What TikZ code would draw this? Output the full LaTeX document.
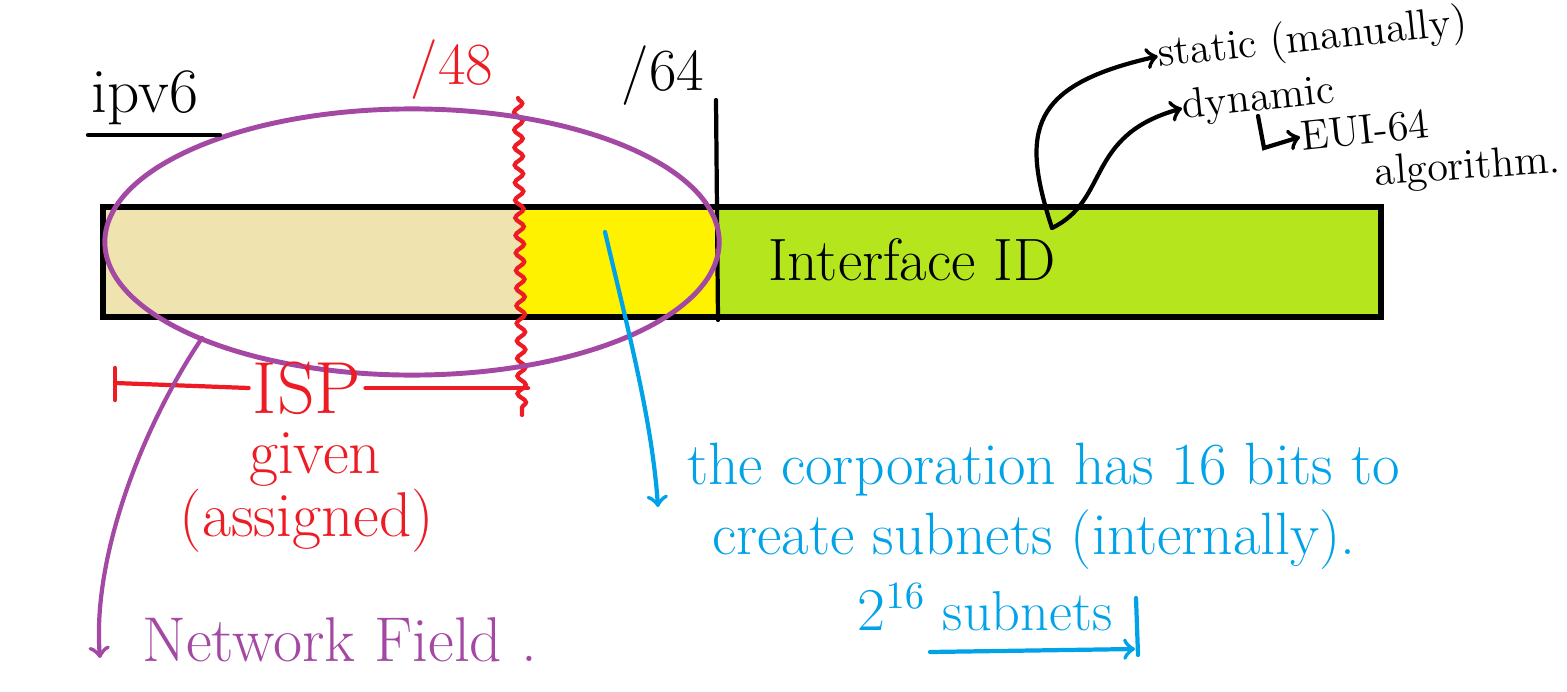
\documentclass[tikz,border=0pt]{standalone}
\usepackage{tikz}
\usetikzlibrary{arrows,decorations.pathmorphing}
\definecolor{tanfield}{HTML}{EFE4B0}
\definecolor{yellowfield}{HTML}{FFF200}
\definecolor{greenfield}{HTML}{B5E61D}
\definecolor{penred}{HTML}{ED1C24}
\definecolor{penblue}{HTML}{00A2E8}
\definecolor{penpurple}{HTML}{A349A4}

\begin{document}
\begin{tikzpicture}[x=0.01cm,y=-0.01cm]
	\tikzstyle{every node}=[inner sep=1pt, font=\fontsize{17}{19}\selectfont]
	\tikzstyle{pen}=[line width=1.2pt, line cap=round]
	\tikzstyle{big}=[font=\fontsize{18}{20}\selectfont]
	\tikzstyle{small}=[inner sep=0pt, font=\fontsize{12}{14}\selectfont]
	\useasboundingbox (0,0) rectangle (1567,691);
	% address bar
	\fill[tanfield] (103,207) rectangle (520,317);
	\fill[yellowfield] (520,207) rectangle (718,317);
	\fill[greenfield] (718,207) rectangle (1381,317);
	\draw[line width=1.5pt] (103,207) rectangle (1381,317);
	\draw[pen] (716,100) -- (718,320);
	\draw[penred, pen, decorate, decoration={snake, segment length=5pt, amplitude=1.2pt}] (518,98) -- (522,415);
	\draw[penpurple, line width=1.4pt] (412,242) ellipse [x radius=3.07cm, y radius=1.33cm];
	% labels
	\node[big] (ipv) at (145,98) {ipv6};
	\draw[pen] (88,135) -- (220,135);
	\node[penred] (p48) at (452,70) {/48};
	\node (p64) at (663,76) {/64};
	\node (iid) at (912,260) {Interface ID};
	\node[small, rotate=6, anchor=south west] (stat) at (1160,78) {static (manually)};
	\node[small, rotate=6, anchor=south west] (dyn) at (1184,128) {dynamic};
	\node[small, rotate=6, anchor=west] (eui) at (1300,137) {EUI-64};
	\node[small, rotate=4, anchor=west] (algo) at (1374,175) {algorithm.};
	\coordinate (hook) at (1258,116);
	\draw[pen, ->] (hook) -- (1264,148) -- (eui.west);
	\coordinate (src) at (1052,228);
	\draw[pen, ->] (src) .. controls (1020,130) and (1030,85) .. (stat.west);
	\draw[pen, ->] (src) .. controls (1110,200) and (1085,135) .. (dyn.west);
	% ISP part
	\node[font=\fontsize{21}{23}\selectfont, penred] (isp) at (307,388) {ISP};
	\draw[penred, pen] (115,368) -- (115,400);
	\draw[penred, pen] (115,383) -- (isp.west);
	\draw[penred, pen] (isp.east) -- (528,388);
	\node[big, penred] (given) at (315,460) {given};
	\node[big, penred] (asg) at (307,521) {(assigned)};
	% network field
	\node[big, penpurple, anchor=west] (nf) at (138,640) {Network Field .};
	\coordinate (ellbot) at (202,338);
	\coordinate (nfend) at (100,658);
	\draw[penpurple, pen, ->] (ellbot) .. controls (140,430) and (92,560) .. (nfend);
	% subnet part
	\node[penblue, anchor=west] (corp1) at (683,470) {the corporation has 16 bits to};
	\node[penblue, anchor=west] (corp2) at (708,540) {create subnets (internally).};
	\node[font=\fontsize{16}{18}\selectfont, penblue] (subn) at (985,607) {$2^{16}$ subnets};
	\coordinate (sub) at (605,232);
	\coordinate (corpend) at (658,507);
	\draw[penblue, pen, ->] (sub) .. controls (628,330) and (652,420) .. (corpend);
	\coordinate (ulstart) at (930,652);
	\draw[penblue, pen, ->] (ulstart) -- (1135,649);
	\draw[penblue, pen] (1136,598) -- (1138,655);
\end{tikzpicture}
\end{document}
